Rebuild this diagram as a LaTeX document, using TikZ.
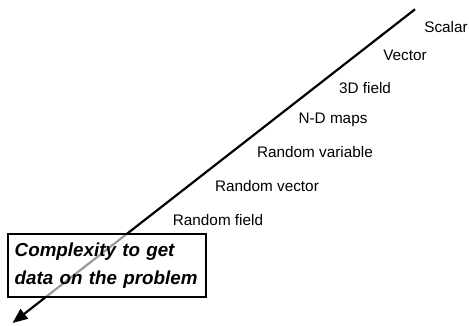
\documentclass[tikz,border=0pt]{standalone}
\usepackage{fontspec}
\setmainfont{Liberation Sans}
\usetikzlibrary{arrows.meta}
\begin{document}
\begin{tikzpicture}[x=1pt,y=-1pt,
  lbl/.style={font=\fontsize{15.3}{18}\selectfont, inner sep=0pt},
  boxlbl/.style={draw=black, line width=1.7pt, fill=white, fill opacity=0.6, text opacity=1,
    font=\fontsize{18.8}{28}\selectfont\bfseries\itshape, align=left,
    minimum width=198pt, minimum height=63pt, inner sep=0pt, text width=184pt}]
\useasboundingbox (0,0) rectangle (469,325);
\coordinate (top) at (415,9.3);
\coordinate (tip) at (12.5,323);
\draw[line width=2.2pt, -{Stealth[length=15pt,width=12pt,inset=0pt]}] (top) -- (tip);
\node[lbl] (scalar) at (446,27) {Scalar};
\node[lbl] (vector) at (405,55) {Vector};
\node[lbl] (field3d) at (365,88) {3D field};
\node[lbl] (ndmaps) at (333,120) {N-D maps};
\node[lbl] (rvar) at (315,152) {Random variable};
\node[lbl] (rvec) at (267,186) {Random vector};
\node[lbl] (rfield) at (218,220) {Random field};
\node[boxlbl] (box) at (106.7,265.5) {Complexity to get\\data on the problem};
\end{tikzpicture}
\end{document}
